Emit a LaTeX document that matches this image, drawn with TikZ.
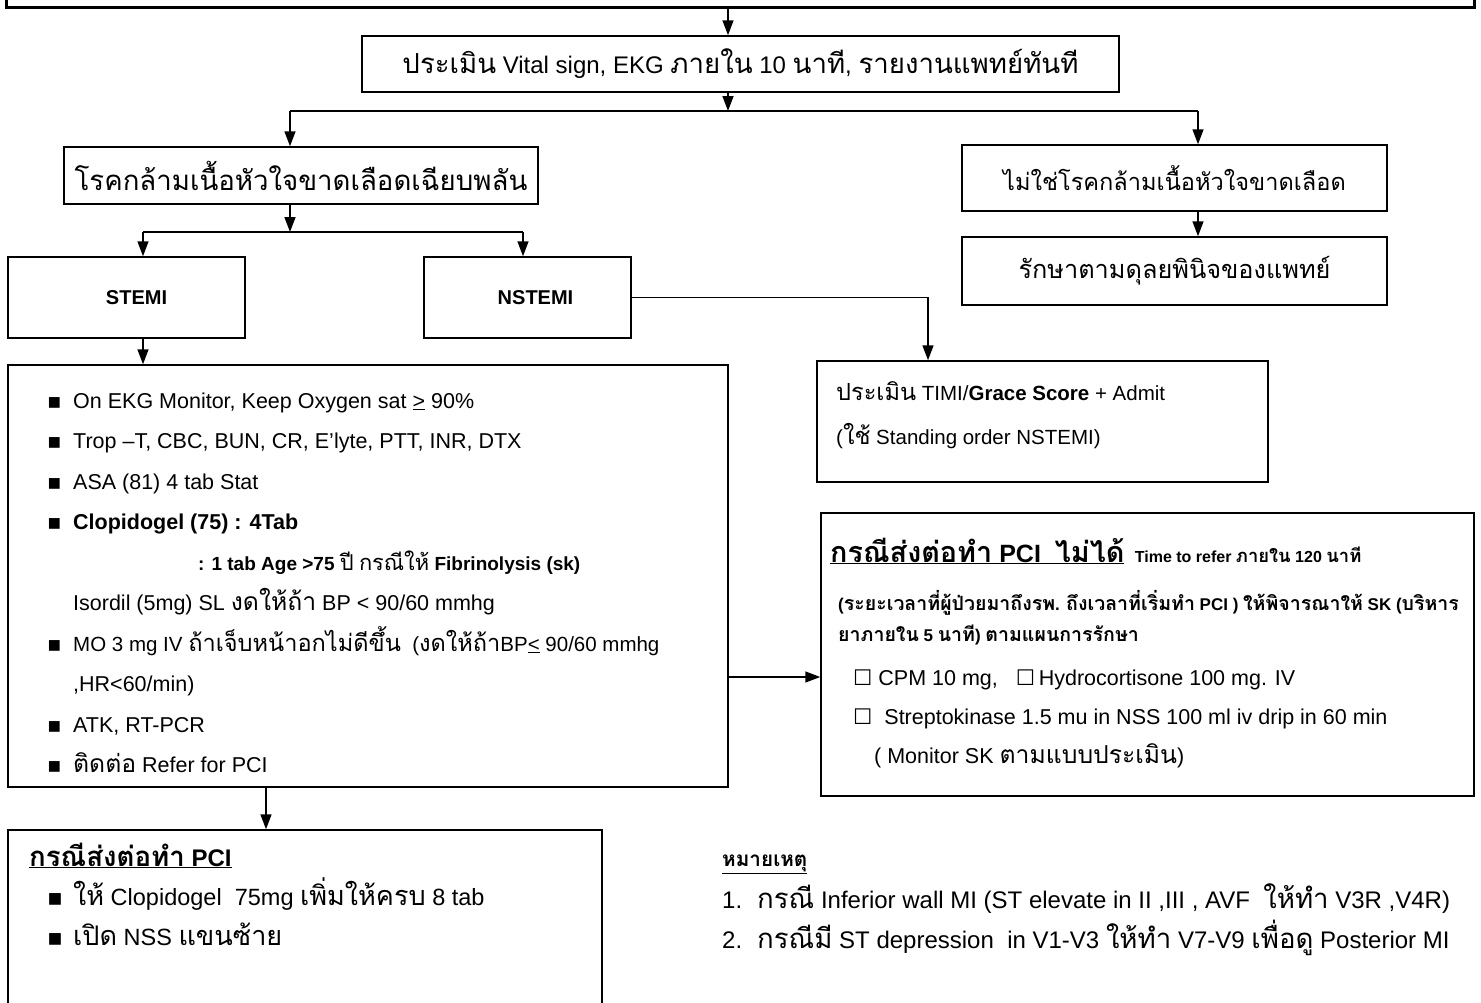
\documentclass[tikz,border=0pt]{standalone}
\usepackage{fontspec}
\setmainfont{Liberation Sans}
\newfontfamily\thaifont[Script=Thai,Scale=1.15]{Loma}
\newfontfamily\symfont{DejaVu Sans}
% thai runs switch font on their own
\XeTeXinterchartokenstate=1
\newXeTeXintercharclass\thaiclass
\count255="0E00
\loop\XeTeXcharclass\count255=\thaiclass
\ifnum\count255<"0E7F \advance\count255 by 1 \repeat
\XeTeXinterchartoks 0 \thaiclass = {\thaifont}
\XeTeXinterchartoks 4095 \thaiclass = {\thaifont}
\XeTeXinterchartoks \thaiclass 0 = {\rmfamily}
\XeTeXinterchartoks \thaiclass 4095 = {\rmfamily}
\usetikzlibrary{arrows.meta}
\tikzstyle{boxed}=[draw,line width=1.5pt,inner sep=0pt]
\tikzstyle{conn}=[line width=1.5pt]
\tikzstyle{arr}=[line width=1.5pt,-{Triangle[length=15pt,width=11pt]}]
\tikzstyle{txt}=[anchor=base west,inner sep=0pt]
\newcommand{\sq}{\makebox[26pt][l]{\symfont ▪}}
\newcommand{\cb}{{\symfont ☐}}
\newcommand{\fs}[1]{\fontsize{#1}{1.2\dimexpr#1pt}\selectfont}
\newcommand{\sm}{\fs{17}\bfseries}
\begin{document}
\begin{tikzpicture}[x=1pt,y=-1pt,font=\fs{21.5}]
\useasboundingbox (0,0) rectangle (1481,1002);
	% boxes
	\node[boxed,line width=3pt,minimum width=1468pt,minimum height=60pt] (top) at (740,-23) {};
	\node[boxed,minimum width=757pt,minimum height=56pt,font=\fs{24}] (vital) at (740.5,64) {ประเมิน Vital sign, EKG ภายใน 10 นาที, รายงานแพทย์ทันที};
	\node[boxed,minimum width=474pt,minimum height=57pt,font=\fs{24}] (ami) at (301,175.5) {โรคกล้ามเนื้อหัวใจขาดเลือดเฉียบพลัน};
	\node[boxed,minimum width=425pt,minimum height=66pt,font=\fs{20.5}] (nonami) at (1174.5,178) {ไม่ใช่โรคกล้ามเนื้อหัวใจขาดเลือด};
	\node[boxed,minimum width=425pt,minimum height=68pt,font=\fs{22}] (treat) at (1174.5,271) {รักษาตามดุลยพินิจของแพทย์};
	\node[boxed,minimum width=237pt,minimum height=81pt,font=\fs{20}\bfseries] (stemi) at (126.5,297.5) {\hspace*{20pt}STEMI};
	\node[boxed,minimum width=207pt,minimum height=81pt,font=\fs{20}\bfseries] (nstemi) at (527.5,297.5) {\hspace*{16pt}NSTEMI};
	\node[boxed,minimum width=451pt,minimum height=121pt] (timi) at (1042.5,421.5) {};
	\node[boxed,minimum width=720pt,minimum height=422pt] (big) at (368,576) {};
	\node[boxed,minimum width=653pt,minimum height=283pt] (sk) at (1147.5,654.5) {};
	\node[boxed,minimum width=594pt,minimum height=210pt] (pci) at (305,935) {};

	% connectors
	\coordinate (xa) at (728,0);
	\coordinate (brM) at (728,111);
	\coordinate (brL) at (290,111);
	\coordinate (brR) at (1198,111);
	\coordinate (sbL) at (143,232);
	\coordinate (sbR) at (523,232);
	\coordinate (xt) at (928,0);
	\coordinate (ya) at (0,677);
	\coordinate (xp) at (266,0);
	\draw[arr] (top.south -| xa) -- (vital.north -| xa);
	\draw[arr] (vital.south -| xa) -- (brM);
	\draw[conn] (brL) -- (brR);
	\draw[arr] (brL) -- (brL |- ami.north);
	\draw[arr] (brR) -- (brR |- nonami.north);
	\draw[arr] (nonami.south -| brR) -- (treat.north -| brR);
	\draw[arr] (ami.south -| brL) -- (brL |- sbL);
	\draw[conn] (sbL) -- (sbR);
	\draw[arr] (sbL) -- (sbL |- stemi.north);
	\draw[arr] (sbR) -- (sbR |- nstemi.north);
	\draw[arr] (stemi.south -| sbL) -- (big.north -| sbL);
	\draw[arr] (nstemi.east) -| (timi.north -| xt);
	\draw[arr] (big.east |- ya) -- (sk.west |- ya);
	\draw[arr] (big.south -| xp) -- (pci.north -| xp);

	% stemi orders
	\foreach \x/\y/\t [count=\i] in {47/408/{\sq On EKG Monitor, Keep Oxygen sat \underline{>} 90\%},
		47/448/{\sq Trop –T, CBC, BUN, CR, E’lyte, PTT, INR, DTX},
		47/489/{\sq ASA (81) 4 tab Stat},
		47/529/{\sq\textbf{Clopidogel (75) : 4Tab}},
		198/570/{\fs{19}\textbf{: 1 tab Age >75} ปี กรณีให้ \textbf{Fibrinolysis (sk)}},
		73/610/{Isordil (5mg) SL งดให้ถ้า BP < 90/60 mmhg},
		47/651/{\sq\fs{20.5}MO 3 mg IV ถ้าเจ็บหน้าอกไม่ดีขึ้น~ (งดให้ถ้าBP\underline{<} 90/60 mmhg},
		73/691/{,HR<60/min)},
		47/732/{\sq ATK, RT-PCR},
		47/772/{\sq ติดต่อ Refer for PCI}}
		{ \node[txt] (st\i) at (\x,\y) {\t};}

	\node[txt,font=\fs{20.5}] (timi1) at (836,400) {ประเมิน TIMI/\textbf{Grace Score} + Admit};
	\node[txt,font=\fs{20.5}] (timi2) at (836,444) {(ใช้ Standing order NSTEMI)};

	\node[txt,font=\fs{25}\bfseries] (sk1) at (830,562) {\underline{กรณีส่งต่อทำ PCI\ \ ไม่ได้}};
	\node[txt,font=\fs{16}\bfseries] (sk2) at ([xshift=10pt]sk1.base east) {Time to refer ภายใน 120 นาที};
	\node[txt,font=\sm] (sk3) at (838,610) {(ระยะเวลาที่ผู้ป่วยมาถึงรพ. ถึงเวลาที่เริ่มทำ PCI ) ให้พิจารณาให้ SK (บริหาร};
	\node[txt,font=\sm] (sk4) at (838,641) {ยาภายใน 5 นาที) ตามแผนการรักษา};
	\node[txt] (sk5) at (853,685) {\cb\ CPM 10 mg,\hspace{18pt}\cb\,Hydrocortisone 100 mg. IV};
	\node[txt] (sk6) at (853,724) {\cb\ \ Streptokinase 1.5 mu in NSS 100 ml iv drip in 60 min};
	\node[txt] (sk7) at (874,763) {( Monitor SK ตามแบบประเมิน)};

	\node[txt,font=\fs{24}\bfseries] (pci1) at (29,866) {\underline{กรณีส่งต่อทำ PCI}};
	\node[txt,font=\fs{23.5}] (pci2) at (47,905) {\sq ให้ Clopidogel\ \ 75mg เพิ่มให้ครบ 8 tab};
	\node[txt,font=\fs{23.5}] (pci3) at (47,945) {\sq เปิด NSS แขนซ้าย};

	\node[txt,font=\fs{18}\bfseries] (note) at (722,866) {\underline{หมายเหตุ}};
	\node[txt,font=\fs{24}] (note1) at (722,908) {\makebox[35pt][l]{1.}กรณี Inferior wall MI (ST elevate in II ,III , AVF\ \ ให้ทำ V3R ,V4R)};
	\node[txt,font=\fs{24}] (note2) at (722,948) {\makebox[35pt][l]{2.}กรณีมี ST depression\ \ in V1-V3 ให้ทำ V7-V9 เพื่อดู Posterior MI};
\end{tikzpicture}
\end{document}
